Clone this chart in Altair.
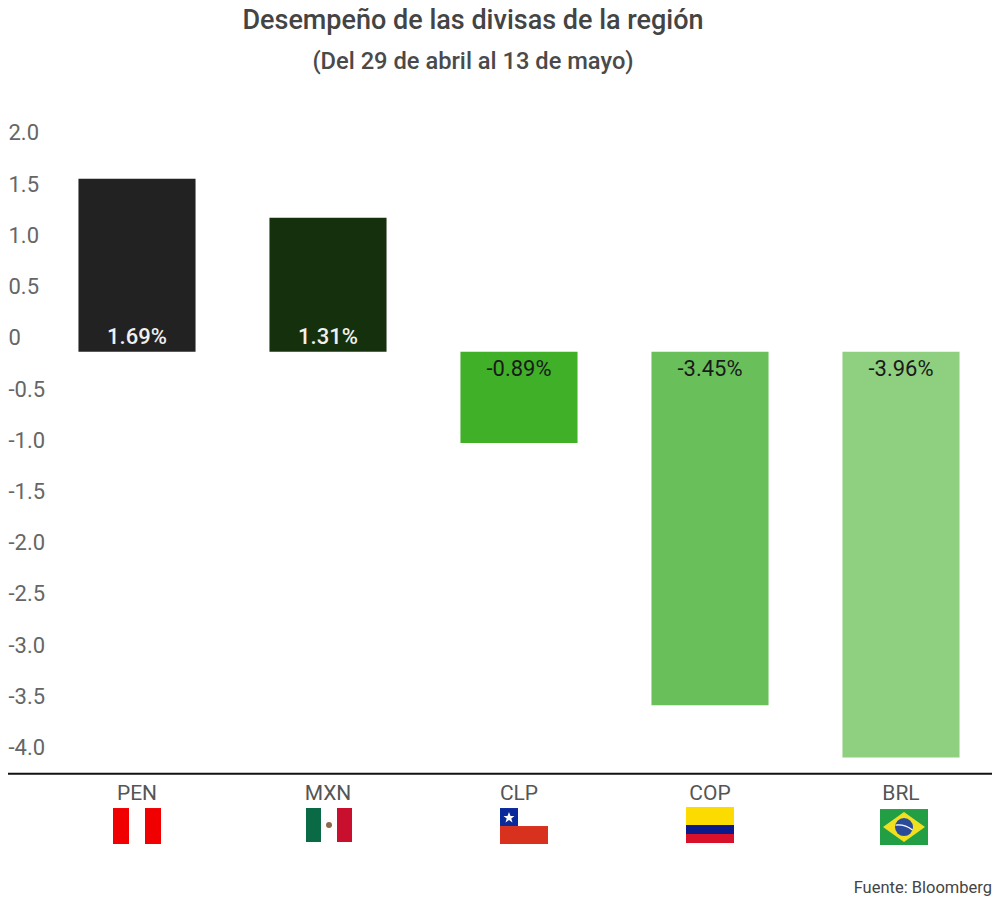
import urllib.parse
import altair as alt
import pandas as pd

currencies = ["PEN", "MXN", "CLP", "COP", "BRL"]
values = [1.69, 1.31, -0.89, -3.45, -3.96]
labels = ["1.69%", "1.31%", "-0.89%", "-3.45%", "-3.96%"]
bar_colors = ["#222222", "#15300c", "#40b028", "#69c05a", "#8fd080"]
y_ticks = [2.0, 1.5, 1.0, 0.5, 0, -0.5, -1.0, -1.5, -2.0, -2.5, -3.0, -3.5, -4.0]
flag_y = [-4.63, -4.62, -4.63, -4.62, -4.64]
flag_shift = [0, 1, 5, 0, 3]

flag_bodies = {
    "PEN": '<rect width="48" height="36" fill="#fff"/><rect width="16" height="36" fill="#f00000"/><rect x="32" width="16" height="36" fill="#f00000"/>',
    "MXN": '<rect x="1" y="1" width="46" height="34" fill="#fff"/><rect x="1" y="1" width="15" height="34" fill="#0a6a46"/><rect x="32" y="1" width="15" height="34" fill="#c8102e"/><circle cx="24" cy="18" r="3" fill="#8a6a4a"/>',
    "CLP": '<rect width="48" height="36" fill="#fff"/><rect y="18" width="48" height="18" fill="#d8321e"/><rect width="18" height="18" fill="#0a2a9a"/><polygon points="9,4 10.5,8 14.5,8 11.3,10.5 12.5,14.5 9,12 5.5,14.5 6.7,10.5 3.5,8 7.5,8" fill="#fff"/>',
    "COP": '<rect width="48" height="18" fill="#fcdc00"/><rect y="18" width="48" height="9" fill="#0a1a8a"/><rect y="27" width="48" height="9" fill="#d8102a"/>',
    "BRL": '<rect width="48" height="36" fill="#229e45"/><polygon points="24,3 45,18 24,33 3,18" fill="#f0e020"/><circle cx="24" cy="18" r="9" fill="#2a4a9a"/><path d="M15.5 16 Q25 15 32.5 21" stroke="#fff" stroke-width="1.2" fill="none"/>',
}


def flag_url(code, shift):
    svg = (f'<svg xmlns="http://www.w3.org/2000/svg" viewBox="{-6 - shift} 0 60 36" '
           f'width="60" height="36">{flag_bodies[code]}</svg>')
    return "data:image/svg+xml," + urllib.parse.quote(svg)


df = pd.DataFrame({
    "currency": currencies,
    "value": values,
    "label": labels,
    "flagY": flag_y,
    "flag": [flag_url(c, s) for c, s in zip(currencies, flag_shift)],
})

FONT = "Roboto"
x_scale = alt.Scale(domain=currencies, range=[33.5, 988.5], paddingInner=0.387, paddingOuter=0.1935)
y_scale = alt.Scale(domain=[-4.12, 2.0], nice=False, zero=False)

x = alt.X("currency:N", scale=x_scale, sort=currencies, title=None,
          axis=alt.Axis(orient="bottom", domain=False, ticks=False, labelAngle=0,
                        labelFont=FONT, labelFontSize=21, labelColor="#555555",
                        labelPadding=9))
y = alt.Y("value:Q", scale=y_scale, title=None,
          axis=alt.Axis(values=y_ticks, domain=False, ticks=False, grid=False,
                        labelAlign="left", labelPadding=0, labelOffset=-14,
                        labelFont=FONT, labelFontSize=22, labelColor="#666666",
                        labelExpr="datum.value == 0 ? '0' : replace(format(datum.value, '.1f'), '\u2212', '-')"))

base = alt.Chart(df)

bars = base.mark_bar().encode(
    x=x, y=y, y2=alt.datum(0),
    color=alt.Color("currency:N", scale=alt.Scale(domain=currencies, range=bar_colors), legend=None),
)

pos_labels = base.transform_filter("datum.value > 0").mark_text(
    font=FONT, fontSize=22, fontWeight=500, color="#f0f0f0", baseline="middle", dy=-15
).encode(x=alt.X("currency:N", scale=x_scale, sort=currencies), y=alt.Y("z:Q", scale=y_scale), text="label:N").transform_calculate(z="0")

neg_labels = base.transform_filter("datum.value < 0").mark_text(
    font=FONT, fontSize=22, color="#1a1a1a", baseline="middle", dy=17
).encode(x=alt.X("currency:N", scale=x_scale, sort=currencies), y=alt.Y("z:Q", scale=y_scale), text="label:N").transform_calculate(z="0")

baseline = alt.Chart(pd.DataFrame({"v": [-4.12]})).mark_rule(color="#111111", strokeWidth=2).encode(
    y=alt.Y("v:Q", scale=y_scale)
)

flags = base.mark_image(width=60, height=36).encode(
    x=alt.X("currency:N", scale=x_scale, sort=currencies),
    y=alt.Y("flagY:Q", scale=y_scale),
    url="flag:N",
)

source = alt.Chart(pd.DataFrame({"t": ["Fuente: Bloomberg"]})).mark_text(
    font=FONT, fontSize=16.5, color="#444444", align="right", baseline="middle"
).encode(x=alt.value(984), y=alt.value(741), text="t:N")

chart = alt.layer(bars, pos_labels, neg_labels, baseline, flags, source).properties(
    width=984,
    height=626.8,
    background="white",
    title=alt.TitleParams(
        text="Desempeño de las divisas de la región",
        subtitle="(Del 29 de abril al 13 de mayo)",
        anchor="middle", dx=-27,
        font=FONT, fontSize=27, fontWeight=500, color="#444444",
        subtitleFont=FONT, subtitleFontSize=23.7, subtitleFontWeight=500, subtitleColor="#4a4a4a",
        subtitlePadding=15, offset=47,
    ),
    autosize=alt.AutoSizeParams(type="none"),
    padding={"left": 0, "top": 139, "right": 0, "bottom": 125},
).configure_view(strokeWidth=0)

chart.save("out.html", embed_options={"renderer": "svg", "actions": False})
